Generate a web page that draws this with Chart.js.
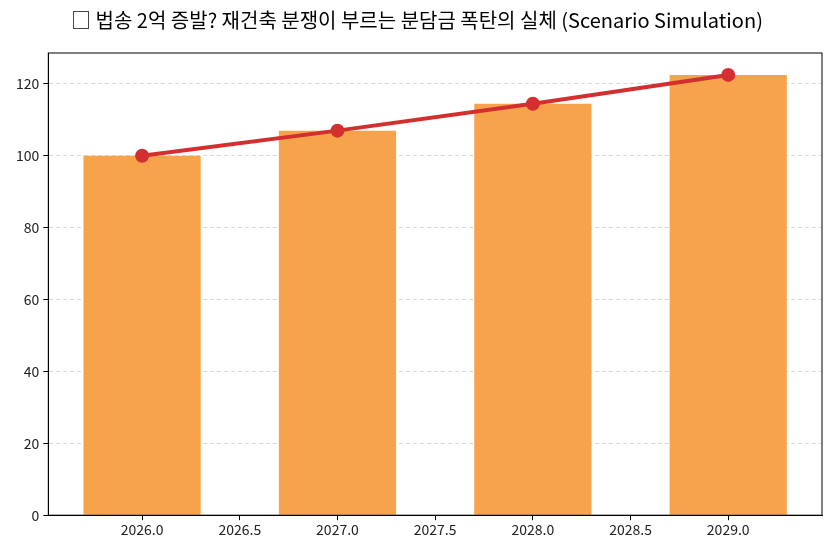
<!DOCTYPE html>
<html>
<head>
<meta charset="utf-8">
<script src="https://cdn.jsdelivr.net/npm/chart.js@4"></script>
<style>
  html, body { margin: 0; padding: 0; background: #fff; }
  #wrap { width: 833px; height: 549px; position: relative; }
</style>
</head>
<body>
<div id="wrap"><canvas id="chart"></canvas></div>
<script>
const years = [2026, 2027, 2028, 2029];
const costs = [100, 107, 114.5, 122.5];
const xTicks = [2026.0, 2026.5, 2027.0, 2027.5, 2028.0, 2028.5, 2029.0];
const yTicks = [0, 20, 40, 60, 80, 100, 120];
const title = "□ 법송 2억 증발? 재건축 분쟁이 부르는 분담금 폭탄의 실체 (Scenario Simulation)";

const font = "'Noto Sans CJK KR', 'Noto Sans', sans-serif";

// matplotlib-like frame around the plot area
const frame = {
  id: "frame",
  afterDraw(c) {
    const { ctx, chartArea: a } = c;
    ctx.save();
    ctx.strokeStyle = "#000";
    ctx.lineWidth = 1;
    ctx.setLineDash([]);
    ctx.strokeRect(a.left, a.top, a.right - a.left, a.bottom - a.top);
    ctx.restore();
  }
};

const points = years.map((y, i) => ({ x: y, y: costs[i] }));

new Chart(document.getElementById("chart"), {
  type: "bar",
  data: {
    datasets: [
      {
        type: "line",
        data: points,
        borderColor: "#d32f2f",
        backgroundColor: "#d32f2f",
        borderWidth: 4,
        pointRadius: 7,
        pointHoverRadius: 7,
        pointBorderWidth: 0,
        order: 0
      },
      {
        data: points,
        backgroundColor: "#f7a34b",
        // tick spacing (0.5) is the ruler here, so 1.2 gives a 0.6-year bar
        categoryPercentage: 1.2,
        barPercentage: 1,
        order: 1
      }
    ]
  },
  options: {
    responsive: true,
    maintainAspectRatio: false,
    animation: false,
    layout: { padding: { left: 12, right: 11, top: 0, bottom: 10 } },
    plugins: {
      legend: { display: false },
      tooltip: { enabled: false },
      title: {
        display: true,
        text: title,
        color: "#000",
        font: { family: font, size: 20, weight: "normal" },
        padding: { top: 8, bottom: 21 }
      }
    },
    scales: {
      x: {
        type: "linear",
        min: 2025.52,
        max: 2029.48,
        offset: false,
        afterBuildTicks: s => { s.ticks = xTicks.map(v => ({ value: v })); },
        ticks: {
          color: "#222",
          font: { family: font, size: 14 },
          padding: 1,
          maxRotation: 0,
          callback: v => Number(v).toFixed(1)
        },
        grid: { drawOnChartArea: false, offset: false, tickLength: 5, color: "#000" },
        border: { color: "#000" }
      },
      y: {
        min: 0,
        max: 128.6,
        afterBuildTicks: s => { s.ticks = yTicks.map(v => ({ value: v })); },
        ticks: {
          color: "#222",
          font: { family: font, size: 14 },
          padding: 4
        },
        grid: {
          color: "#d9d9d9",
          tickColor: "#000",
          tickBorderDash: [],
          tickLength: 5
        },
        border: { color: "#000", dash: [4, 3] }
      }
    }
  },
  plugins: [frame]
});
</script>
</body>
</html>
